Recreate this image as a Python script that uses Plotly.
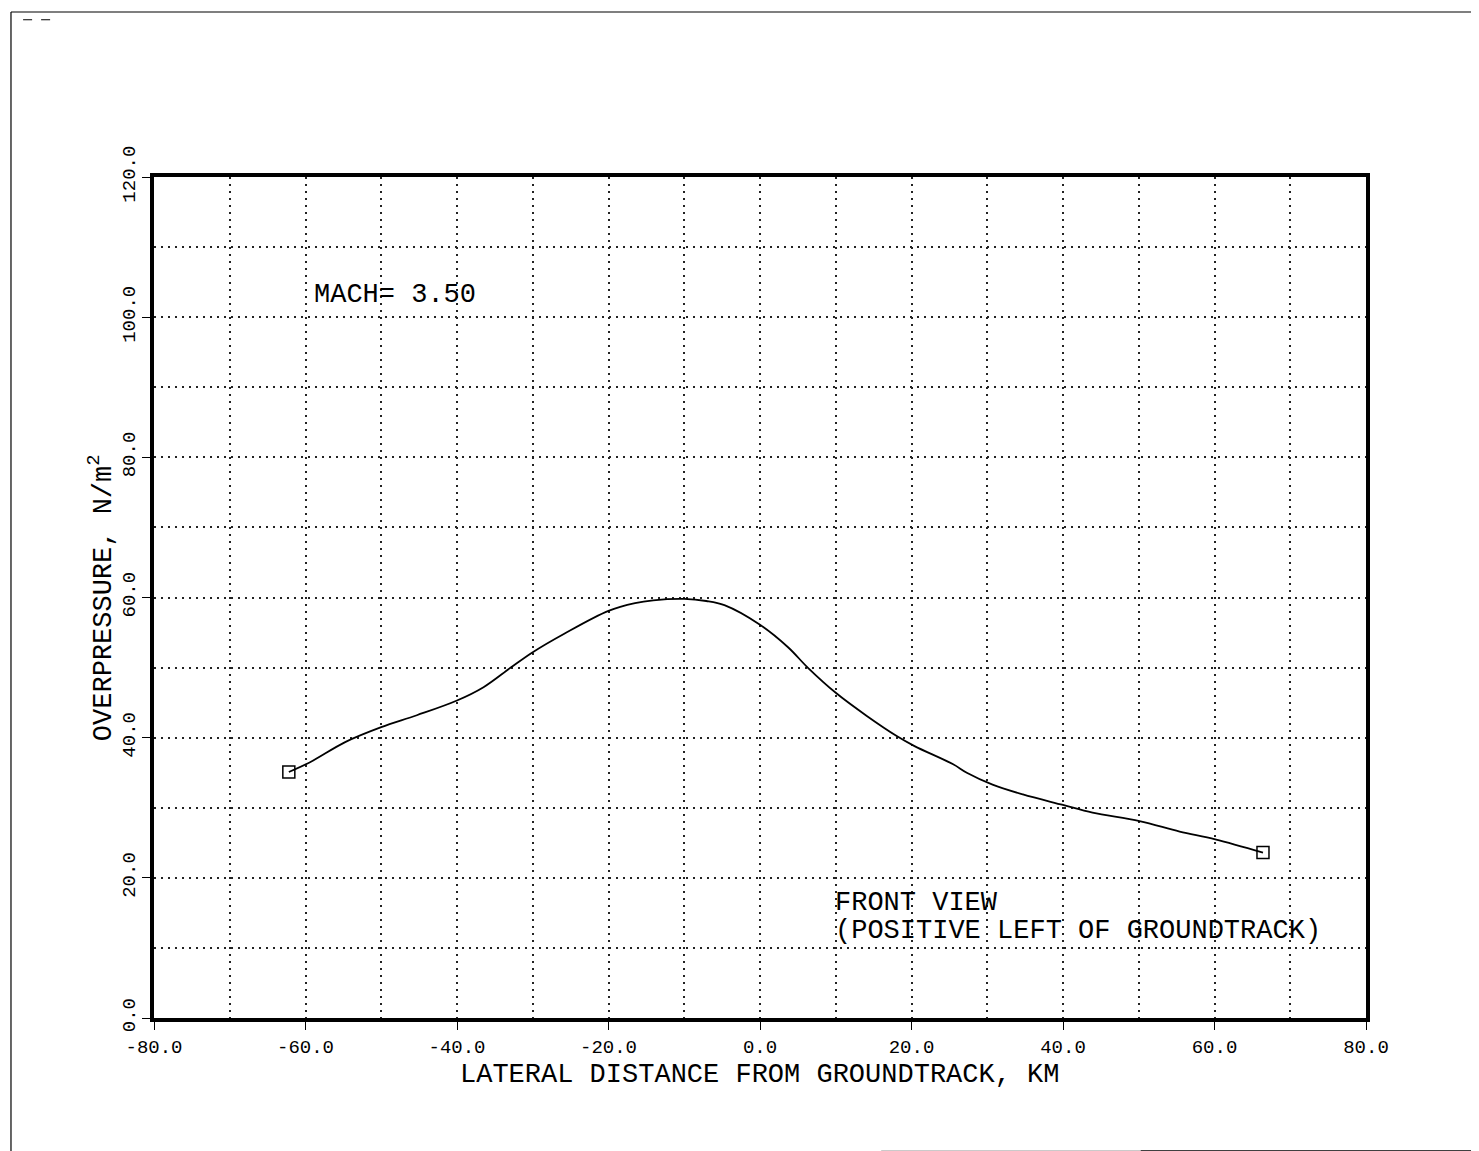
import plotly.graph_objects as go

# Data
lateral_km = [-62.2, -59.4, -54.7, -50.0, -45.3, -40.0, -36.5, -32.9, -30.0, -25.9,
              -20.0, -16.5, -14.1, -10.0, -7.1, -4.7, 0.0, 3.7, 6.3, 10.0,
              14.1, 18.1, 20.4, 25.5, 27.3, 30.7, 34.7, 40.0, 43.9, 50.1, 55.4,
              60.1, 66.4]
overpressure = [35.1, 36.5, 39.4, 41.5, 43.2, 45.3, 47.2, 50.0, 52.2, 54.8,
                58.1, 59.2, 59.6, 59.8, 59.5, 58.9, 56.1, 52.9, 50.0, 46.4,
                43.1, 40.2, 38.8, 36.2, 35.0, 33.3, 31.9, 30.4, 29.3, 28.1, 26.6,
                25.5, 23.6]

x_ticks = [-80, -60, -40, -20, 0, 20, 40, 60, 80]
x_tick_labels = ["-80.0", "-60.0", "-40.0", "-20.0", "0.0", "20.0", "40.0", "60.0", "80.0"]
y_ticks = [0, 20, 40, 60, 80, 100, 120]
y_tick_labels = ["0.0", "20.0", "40.0", "60.0", "80.0", "100.0", "120.0"]

FONT = "Liberation Mono, DejaVu Sans Mono, monospace"
GRID_DASH = "2px,5px"
GRID_COLOR = "#222222"

fig = go.Figure()
fig.add_trace(go.Scatter(
    x=lateral_km, y=overpressure, mode="lines",
    line=dict(color="black", width=1.8, shape="spline", smoothing=1.0),
    hoverinfo="skip", showlegend=False))
fig.add_trace(go.Scatter(
    x=[lateral_km[0], lateral_km[-1]], y=[overpressure[0], overpressure[-1]],
    mode="markers",
    marker=dict(symbol="square-open", size=12, color="black", line=dict(width=1.5)),
    hoverinfo="skip", showlegend=False))

fig.update_xaxes(
    range=[-80, 80], tickvals=x_ticks, ticktext=x_tick_labels,
    showline=True, linecolor="black", linewidth=3.5, mirror=True,
    ticks="outside", ticklen=8, tickwidth=1.2, tickcolor="black",
    showgrid=True, gridcolor=GRID_COLOR, gridwidth=2, griddash=GRID_DASH,
    minor=dict(dtick=10, tick0=0, showgrid=True, gridcolor=GRID_COLOR, gridwidth=2, griddash=GRID_DASH, ticks=""),
    tickfont=dict(family=FONT, size=19, color="black"),
    zeroline=False, fixedrange=True)
fig.update_yaxes(
    range=[0, 120], tickvals=y_ticks, ticktext=y_tick_labels, tickangle=-90,
    showline=True, linecolor="black", linewidth=3.5, mirror=True,
    ticks="outside", ticklen=8, tickwidth=1.2, tickcolor="black",
    showgrid=True, gridcolor=GRID_COLOR, gridwidth=2, griddash=GRID_DASH,
    minor=dict(dtick=10, tick0=0, showgrid=True, gridcolor=GRID_COLOR, gridwidth=2, griddash=GRID_DASH, ticks=""),
    tickfont=dict(family=FONT, size=19, color="black"),
    zeroline=False, fixedrange=True)

annotations = [
    dict(text="LATERAL DISTANCE FROM GROUNDTRACK, KM", xref="paper", yref="paper",
         x=0.5, y=-0.068, xanchor="center", yanchor="middle", showarrow=False,
         font=dict(family=FONT, size=27, color="black")),
    dict(text="OVERPRESSURE, N/m<sup>2</sup>", xref="paper", yref="paper",
         x=-0.044, y=0.5, xanchor="center", yanchor="middle", textangle=-90, showarrow=False,
         font=dict(family=FONT, size=27, color="black")),
    dict(text="MACH= 3.50", xref="x", yref="y", x=-59.2, y=103.1,
         xanchor="left", yanchor="middle", showarrow=False,
         font=dict(family=FONT, size=27, color="black")),
    dict(text="FRONT VIEW", xref="x", yref="y",
         x=9.6, y=16.4, xanchor="left", yanchor="middle", showarrow=False,
         font=dict(family=FONT, size=27, color="black")),
    dict(text="(POSITIVE LEFT OF GROUNDTRACK)", xref="x", yref="y",
         x=9.6, y=12.4, xanchor="left", yanchor="middle", showarrow=False,
         font=dict(family=FONT, size=27, color="black")),
]

shapes = [
    # page frame (left, top, bottom-right)
    dict(type="line", xref="paper", yref="paper", x0=-0.1180, x1=-0.1180, y0=1.1962, y1=-0.1605,
         line=dict(color="black", width=1.2)),
    dict(type="line", xref="paper", yref="paper", x0=-0.1180, x1=1.094, y0=1.1962, y1=1.1962,
         line=dict(color="black", width=1.2)),
    dict(type="line", xref="paper", yref="paper", x0=0.814, x1=1.094, y0=-0.158, y1=-0.158,
         line=dict(color="black", width=1.2)),
    dict(type="line", xref="paper", yref="paper", x0=0.60, x1=0.814, y0=-0.158, y1=-0.158,
         line=dict(color="#aaaaaa", width=1)),
    dict(type="line", xref="paper", yref="paper", x0=-0.108, x1=-0.079, y0=1.187, y1=1.187,
         line=dict(color="black", width=1.2, dash="dash")),
]

fig.update_layout(
    width=1479, height=1151,
    margin=dict(l=146, r=121, t=169, b=141, pad=0),
    paper_bgcolor="white", plot_bgcolor="white",
    annotations=annotations, shapes=shapes,
    showlegend=False,
)

fig.write_html("out.html", config={"displayModeBar": False})
